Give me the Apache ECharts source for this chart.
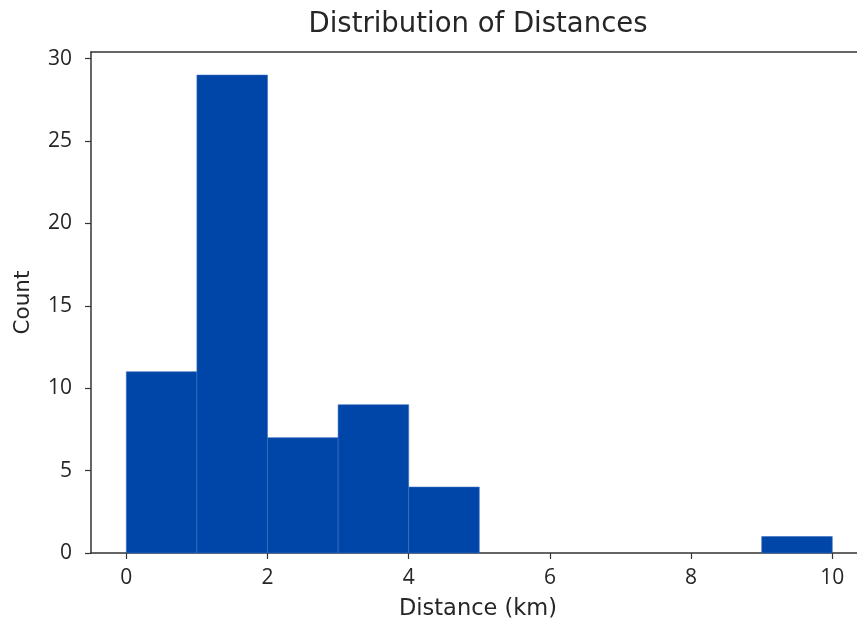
<!DOCTYPE html>
<html><head><meta charset="utf-8">
<script src="https://cdn.jsdelivr.net/npm/echarts@6/dist/echarts.min.js"></script>
<style>html,body{margin:0;padding:0;background:#fff}#c{width:857px;height:627px}</style>
</head><body><div id="c"></div>
<script>
var binStarts = [0,1,2,3,4,5,6,7,8,9];
var binEnds   = [1,2,3,4,5,6,7,8,9,10];
var counts    = [11,29,7,9,4,0,0,0,0,1];
var xTicks = [0,2,4,6,8,10];
var yTicks = [0,5,10,15,20,25,30];
var titleText = 'Distribution of Distances';
var xLabel = 'Distance (km)';
var yLabel = 'Count';

var FONT = 'DejaVu Sans';
var TICKFONT = 'Open Sans';
var data = binStarts.map(function(s,i){return [s, binEnds[i], counts[i]];});
var textColor = '#262626';
var lineColor = '#333';
var chart = echarts.init(document.getElementById('c'));
chart.setOption({
  animation:false,
  grid:{left:91, top:52, right:0, bottom:74, containLabel:false},
  graphic:[
    {type:'text', x:478, y:25, style:{text:titleText, fontFamily:FONT, fontSize:27.5, fill:textColor, textAlign:'center', textVerticalAlign:'middle'}},
    {type:'text', x:478, y:609, style:{text:xLabel, fontFamily:FONT, fontSize:22.5, fill:textColor, textAlign:'center', textVerticalAlign:'middle'}}
  ],
  xAxis:[{
    type:'value', min:-0.5, max:10.35, position:'bottom',
    axisLine:{show:true, onZero:false, lineStyle:{color:lineColor, width:1.5}},
    axisTick:{show:true, length:6, lineStyle:{color:lineColor, width:1.2}, customValues:xTicks},
    axisLabel:{color:textColor, fontFamily:TICKFONT, fontSize:21, margin:15, customValues:xTicks},
    splitLine:{show:false}
  },{
    type:'value', min:-0.5, max:10.35, position:'top',
    axisLine:{show:true, onZero:false, lineStyle:{color:lineColor, width:1.5}},
    axisTick:{show:false}, axisLabel:{show:false}, splitLine:{show:false}
  }],
  yAxis:{
    type:'value', min:0, max:30.4,
    name:yLabel, nameLocation:'middle', nameGap:57,
    nameTextStyle:{color:textColor, fontFamily:FONT, fontSize:21.5},
    axisLine:{show:true, onZero:false, lineStyle:{color:lineColor, width:1.5}},
    axisTick:{show:true, length:6, lineStyle:{color:lineColor, width:1.2}, customValues:yTicks},
    axisLabel:{color:textColor, fontFamily:TICKFONT, fontSize:21, margin:19, customValues:yTicks},
    splitLine:{show:false}
  },
  series:[{
    type:'custom',
    xAxisIndex:0,
    data:data,
    encode:{x:[0,1], y:2},
    renderItem:function(params, api){
      var h = api.value(2);
      if (!h) return null;
      var p0 = api.coord([api.value(0), h]);
      var p1 = api.coord([api.value(1), 0]);
      return {type:'rect', shape:{x:p0[0], y:p0[1], width:p1[0]-p0[0], height:p1[1]-p0[1]},
        style:{fill:'#0046a8', stroke:'#3a6fc0', lineWidth:0.6}};
    }
  }]
});
</script></body></html>
